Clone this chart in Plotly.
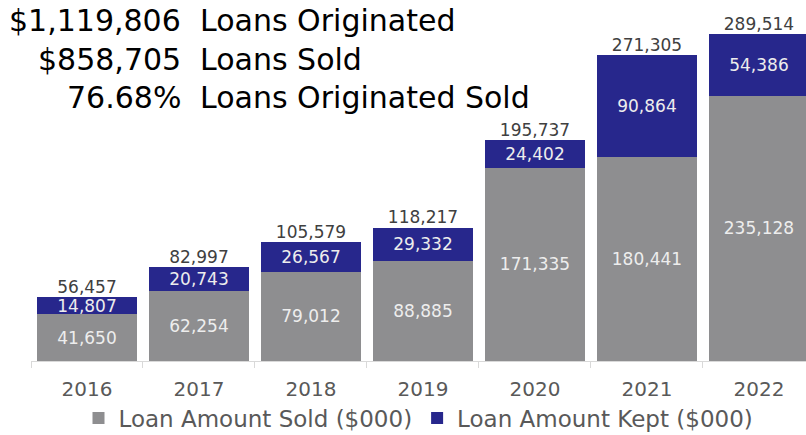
import plotly.graph_objects as go

years = ["2016", "2017", "2018", "2019", "2020", "2021", "2022"]
sold = [41650, 62254, 79012, 88885, 171335, 180441, 235128]
kept = [14807, 20743, 26567, 29332, 24402, 90864, 54386]
totals = [56457, 82997, 105579, 118217, 195737, 271305, 289514]

summary_values = ["$1,119,806", "$858,705", "76.68%"]
summary_labels = ["Loans Originated", "Loans Sold", "Loans Originated Sold"]

FONT = "DejaVu Sans, Verdana, sans-serif"
GRAY = "#8e8e90"
BLUE = "#27278c"

W, H = 806, 435
ML, MR, MT, MB = 31, 0, 0, 74
pw, ph = W - ML - MR, H - MT - MB

fig = go.Figure()
fig.add_trace(go.Bar(
    x=years, y=sold, name="Loan Amount Sold ($000)",
    marker=dict(color=GRAY, line=dict(width=0)),
    text=[f"{v:,}" for v in sold], textposition="inside",
    insidetextanchor="middle",
    textfont=dict(family=FONT, size=17, color="#ededed"),
    hoverinfo="skip",
))
fig.add_trace(go.Bar(
    x=years, y=kept, name="Loan Amount Kept ($000)",
    marker=dict(color=BLUE, line=dict(width=0)),
    text=[f"{v:,}" for v in kept], textposition="inside",
    insidetextanchor="middle",
    textfont=dict(family=FONT, size=17, color="#ededed"),
    hoverinfo="skip",
))
fig.add_trace(go.Scatter(
    x=years, y=totals, mode="text",
    text=[f"{v:,}" for v in totals], textposition="top center",
    textfont=dict(family=FONT, size=17, color="#404040"),
    showlegend=False, hoverinfo="skip",
))

# summary block in the upper left (positions given in pixels)
line_y = [20, 59, 97]
for val, lab, yy in zip(summary_values, summary_labels, line_y):
    fig.add_annotation(
        x=(183 - ML) / pw, y=1 - (yy - MT) / ph, xref="paper", yref="paper",
        text=val, showarrow=False, xanchor="right", yanchor="middle",
        font=dict(family=FONT, size=30, color="#000000"),
    )
    fig.add_annotation(
        x=(198 - ML) / pw, y=1 - (yy - MT) / ph, xref="paper", yref="paper",
        text=lab, showarrow=False, xanchor="left", yanchor="middle",
        font=dict(family=FONT, size=30, color="#000000"),
    )

fig.update_layout(
    width=W, height=H,
    margin=dict(l=ML, r=MR, t=MT, b=MB, autoexpand=False),
    barmode="stack", bargap=0.107,
    plot_bgcolor="white", paper_bgcolor="white",
    uniformtext=dict(minsize=17, mode="show"),
    showlegend=True,
    legend=dict(
        orientation="h", traceorder="normal",
        x=0.5, xanchor="center", y=-(418 - ph) / ph, yanchor="middle",
        font=dict(family=FONT, size=23, color="#595959"),
        itemwidth=30, tracegroupgap=0,
    ),
    xaxis=dict(
        type="category", range=[-0.5, 6.42],
        showline=True, linecolor="#d9d9d9", linewidth=1,
        ticks="outside", tickson="boundaries", ticklen=6, tickcolor="#d9d9d9",
        ticklabelstandoff=10,
        tickfont=dict(family=FONT, size=20, color="#595959"),
        showgrid=False,
    ),
    yaxis=dict(
        range=[0, 320000], visible=False, showgrid=False, zeroline=False,
    ),
)

fig.write_html("out.html")
